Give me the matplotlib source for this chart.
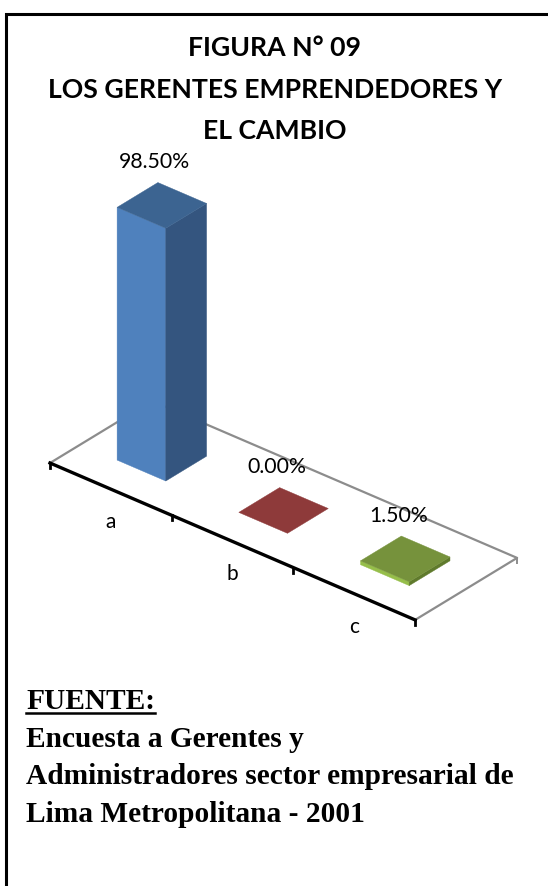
import matplotlib.pyplot as plt
import numpy as np

# Survey results (%)
categories = ["a", "b", "c"]
values = [98.5, 0.0, 1.5]
value_labels = ["98.50%", "0.00%", "1.50%"]

title_lines = ["FIGURA N° 09", "LOS GERENTES EMPRENDEDORES Y", "EL CAMBIO"]
source_title = "FUENTE:"
source_lines = [
    "Encuesta a Gerentes y",
    "Administradores sector empresarial de",
    "Lima Metropolitana - 2001",
]

# colours per bar: front, side, top
face_colors = [
    ("#4F81BD", "#34557F", "#3C6491"),
    ("#C0504D", "#8C3A38", "#8E3A3A"),
    ("#96BE4A", "#5F7A2C", "#76923C"),
]

# oblique projection of the 3D floor onto pixel space
ORIGIN = np.array([50.0, 463.0])
CAT_VEC = np.array([121.7, 52.3])    # one category step
DEPTH_VEC = np.array([102.0, -62.0])  # full floor depth
HEIGHT_PX = 2.566                    # pixels per percentage point
BAR_W = 0.4


def project(u, v, h=0.0):
    p = ORIGIN + u * CAT_VEC + v * DEPTH_VEC
    return p[0], p[1] - h * HEIGHT_PX


def quad(ax, pts, color, z):
    xs, ys = zip(*pts)
    ax.fill(xs, ys, color=color, lw=0.3, ec=color, zorder=z)


fig = plt.figure(figsize=(5.48, 8.86), dpi=100)
ax = fig.add_axes([0, 0, 1, 1])
ax.set_xlim(0, 548)
ax.set_ylim(886, 0)
ax.axis("off")

# page frame
ax.plot([5.5, 5.5, 548], [886, 14, 14], color="black", lw=2.2, solid_joinstyle="miter")

# floor outline
n = len(categories)
fl = project(0, 0)
fr = project(n, 0)
bl = project(0, 1)
br = project(n, 1)
ax.plot([fl[0], bl[0], br[0], fr[0]], [fl[1], bl[1], br[1], fr[1]],
        color="#8C8C8C", lw=1.6, zorder=1)
ax.plot([br[0], br[0]], [br[1], br[1] + 5], color="#8C8C8C", lw=1.4, zorder=1)
ax.plot([fl[0], fr[0]], [fl[1], fr[1]], color="black", lw=2.4, zorder=2)
for i in range(n + 1):
    tx, ty = project(i, 0)
    ax.plot([tx, tx], [ty, ty + 5], color="black", lw=2.0, zorder=2)

# category labels sit below the middle of each category on the front axis
for i, cat in enumerate(categories):
    cx, cy = project(i + 0.5, 0)
    ax.text(cx, cy + 33, cat, ha="center", va="center",
            fontsize=15, family="Lato")

# bars
for i, (val, lab) in enumerate(zip(values, value_labels)):
    u0, u1 = i + 0.5 - BAR_W / 2, i + 0.5 + BAR_W / 2
    v0, v1 = 0.5 - BAR_W / 2, 0.5 + BAR_W / 2
    front_c, side_c, top_c = face_colors[i]
    if val > 0:
        quad(ax, [project(u0, v0), project(u1, v0), project(u1, v0, val), project(u0, v0, val)],
             front_c, 5)
        quad(ax, [project(u1, v0), project(u1, v1), project(u1, v1, val), project(u1, v0, val)],
             side_c, 5)
    quad(ax, [project(u0, v0, val), project(u1, v0, val), project(u1, v1, val), project(u0, v1, val)],
         top_c, 6)
    lx, ly = project(i + 0.5, 0.5, val)
    ax.text(lx - 7, ly - 43, lab, ha="center", va="center",
            fontsize=15.3, family="Lato", zorder=7)

# title
for k, line in enumerate(title_lines):
    ax.text(275, [56, 98, 139][k], line, ha="center", va="baseline",
            fontsize=19.2, fontweight="bold", family="Lato")

# source note
ax.text(26, 709, source_title, ha="left", va="baseline",
        fontsize=21.2, fontweight="bold", family="Liberation Serif")
ax.plot([26, 155], [712.5, 712.5], color="black", lw=1.8)
for k, line in enumerate(source_lines):
    ax.text(26, [747, 784, 821.5][k], line, ha="left", va="baseline",
            fontsize=21.2, fontweight="bold", family="Liberation Serif")

fig.savefig("out.png", dpi=100)
